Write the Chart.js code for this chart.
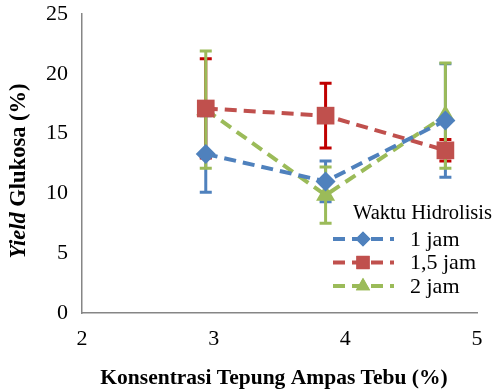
<!DOCTYPE html>
<html>
<head>
<meta charset="utf-8">
<script src="https://cdn.jsdelivr.net/npm/chart.js@4.4.0/dist/chart.umd.min.js"></script>
<style>
  html, body { margin: 0; padding: 0; background: #fff; }
  #wrap { position: relative; width: 496px; height: 389px; }
</style>
</head>
<body>
<div id="wrap"><canvas id="chart" width="496" height="389"></canvas></div>
<script>
// konsentrasi tepung ampas tebu (%)
const konsentrasi = [2.94, 3.85, 4.76];
// yield glukosa (%) per waktu hidrolisis
const yield1jam = [13.3, 11.0, 16.1];
const yield15jam = [17.1, 16.5, 13.6];
const yield2jam = [17.0, 9.85, 16.5];
// standar deviasi
const err1jam = [3.2, 1.7, 4.75];
const err15jam = [4.15, 2.7, 0.9];
const err2jam = [4.9, 2.35, 4.4];
const seriesNames = ['1 jam', '1,5 jam', '2 jam'];
const xTicks = [2, 3, 4, 5];
const yTicks = [0, 5, 10, 15, 20, 25];

const colors = ['#4F81BD', '#C0504D', '#9BBB59'];
const errColors = ['#4F81BD', '#C00000', '#9BBB59'];
const markers = ['rectRot', 'rect', 'triangle'];
const markerSize = [10, 12.5, 11];

function toPoints(ys) {
    return konsentrasi.map((x, i) => ({x: x, y: ys[i]}));
}

const allY = [yield1jam, yield15jam, yield2jam];
const allErr = [err1jam, err15jam, err2jam];

const datasets = allY.map((ys, k) => ({
    label: seriesNames[k],
    data: toPoints(ys),
    showLine: true,
    borderColor: colors[k],
    backgroundColor: colors[k],
    borderWidth: 4,
    borderDash: [12, 7],
    pointStyle: markers[k],
    pointRadius: markerSize[k],
    pointBorderWidth: 0,
    errors: allErr[k],
    errColor: errColors[k]
}));

const serif = '"Liberation Serif", "Times New Roman", serif';

// error bars drawn below the lines, through the scales
const errorBars = {
    id: 'errorBars',
    beforeDatasetsDraw(chart) {
        const ctx = chart.ctx;
        const xs = chart.scales.x, ys = chart.scales.y;
        chart.data.datasets.forEach(ds => {
            ctx.save();
            ctx.strokeStyle = ds.errColor;
            ctx.lineWidth = 3;
            ds.data.forEach((p, i) => {
                const px = xs.getPixelForValue(p.x);
                const top = ys.getPixelForValue(p.y + ds.errors[i]);
                const bot = ys.getPixelForValue(p.y - ds.errors[i]);
                ctx.beginPath();
                ctx.moveTo(px, top); ctx.lineTo(px, bot);
                ctx.moveTo(px - 6, top); ctx.lineTo(px + 6, top);
                ctx.moveTo(px - 6, bot); ctx.lineTo(px + 6, bot);
                ctx.stroke();
            });
            ctx.restore();
        });
    }
};

// titles and legend in the Excel style
const extras = {
    id: 'extras',
    afterDraw(chart) {
        const ctx = chart.ctx;
        ctx.save();
        ctx.fillStyle = '#000';

        // x title
        ctx.font = 'bold 21.5px ' + serif;
        ctx.textAlign = 'center';
        ctx.textBaseline = 'middle';
        ctx.fillText('Konsentrasi Tepung Ampas Tebu (%)', 274, 378);

        // y title, "Yield" italic
        ctx.save();
        ctx.translate(19, 171);
        ctx.rotate(-Math.PI / 2);
        const a = 'Yield', b = ' Glukosa (%)';
        ctx.font = 'italic bold 22.5px ' + serif;
        const wa = ctx.measureText(a).width;
        ctx.font = 'bold 22.5px ' + serif;
        const wb = ctx.measureText(b).width;
        const sx = -(wa + wb) / 2;
        ctx.textAlign = 'left';
        ctx.font = 'italic bold 22.5px ' + serif;
        ctx.fillText(a, sx, 0);
        ctx.font = 'bold 22.5px ' + serif;
        ctx.fillText(b, sx + wa, 0);
        ctx.restore();

        // legend
        ctx.textAlign = 'left';
        ctx.font = '20.5px ' + serif;
        ctx.fillText('Waktu Hidrolisis', 353, 214);
        chart.data.datasets.forEach((ds, k) => {
            const ly = 239 + k * 23.5;
            ctx.save();
            ctx.strokeStyle = ds.borderColor;
            ctx.lineWidth = 4;
            ctx.setLineDash([12, 7]);
            ctx.beginPath();
            ctx.moveTo(333, ly); ctx.lineTo(394, ly);
            ctx.stroke();
            ctx.restore();
            ctx.fillStyle = ds.backgroundColor;
            Chart.helpers.drawPoint(ctx, {
                pointStyle: ds.pointStyle, radius: ds.pointRadius * 0.75, borderWidth: 0
            }, 363, ly);
            ctx.fill();
            ctx.fillStyle = '#000';
            ctx.font = '22px ' + serif;
            ctx.fillText(seriesNames[k], 410, ly + 1);
        });
        ctx.restore();
    }
};

new Chart(document.getElementById('chart'), {
    type: 'scatter',
    data: {datasets: datasets},
    options: {
        responsive: false,
        animation: false,
        layout: {padding: {top: 14, right: 19, left: 0, bottom: 0}},
        plugins: {legend: {display: false}, tooltip: {enabled: false}},
        scales: {
            x: {
                type: 'linear', min: 2, max: 5,
                afterBuildTicks: s => { s.ticks = xTicks.map(v => ({value: v})); },
                afterFit: s => { s.height = 76; s.paddingTop = 0; s.paddingBottom = 0; },
                grid: {display: false, drawTicks: true, tickLength: 6, tickColor: '#868686'},
                border: {color: '#868686', width: 1.5},
                ticks: {color: '#000', font: {family: serif, size: 22}, padding: 7}
            },
            y: {
                type: 'linear', min: 0, max: 25,
                afterBuildTicks: s => { s.ticks = yTicks.map(v => ({value: v})); },
                afterFit: s => { s.width = 82; s.paddingTop = 0; s.paddingBottom = 0; },
                grid: {display: false, drawTicks: true, tickLength: 6, tickColor: '#868686'},
                border: {color: '#868686', width: 1.5},
                ticks: {color: '#000', font: {family: serif, size: 22}, padding: 8}
            }
        }
    },
    plugins: [errorBars, extras]
});
</script>
</body>
</html>
